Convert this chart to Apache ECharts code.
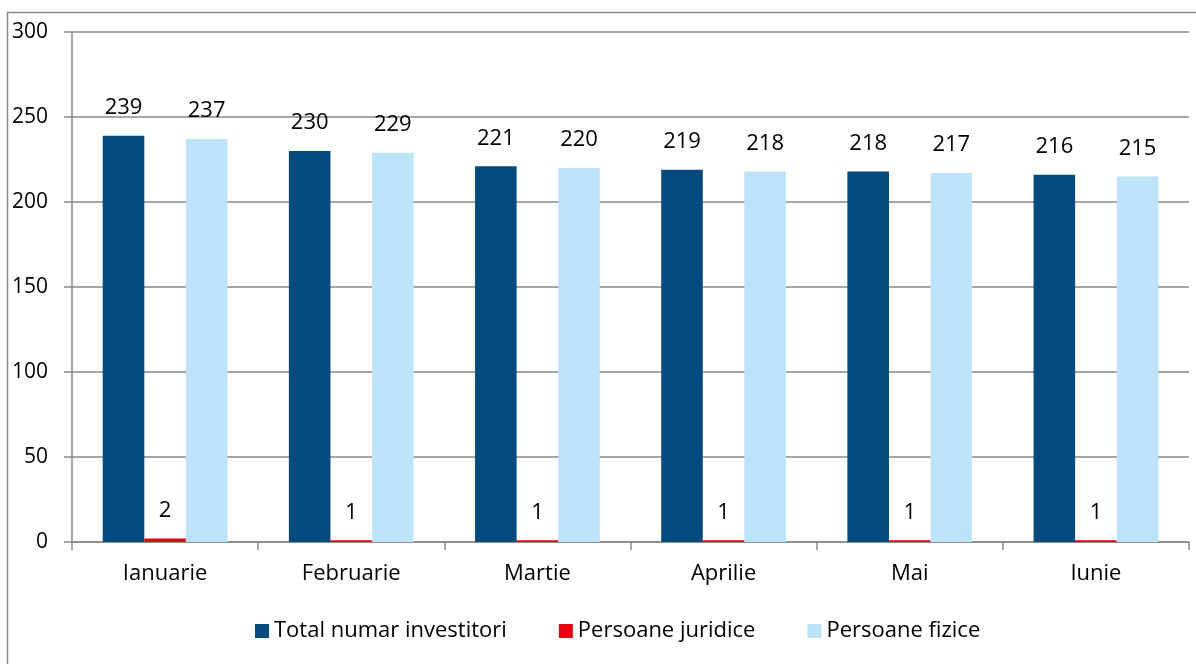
<!DOCTYPE html>
<html>
<head>
<meta charset="utf-8">
<script src="https://cdn.jsdelivr.net/npm/echarts@6/dist/echarts.min.js"></script>
<style>
  html, body { margin: 0; padding: 0; background: #fff; }
  #container { width: 1196px; height: 664px; }
</style>
</head>
<body>
<div id="container"></div>
<script>
var months = ['Ianuarie', 'Februarie', 'Martie', 'Aprilie', 'Mai', 'Iunie'];
var totalInvestitori = [239, 230, 221, 219, 218, 216];
var persoaneJuridice = [2, 1, 1, 1, 1, 1];
var persoaneFizice = [237, 229, 220, 218, 217, 215];
var yTicks = [0, 50, 100, 150, 200, 250, 300];

var dom = document.getElementById('container');
var myChart = echarts.init(dom);
var FONT = '"Open Sans", "Liberation Sans", sans-serif';
var GREY = '#898989';
var FS = 22;

function barSeries(name, data, color) {
    return {
        name: name,
        type: 'bar',
        data: data,
        barGap: '0%',
        barCategoryGap: '33%',
        itemStyle: { color: color },
        label: {
            show: true,
            position: 'top',
            distance: 17,
            color: '#000',
            fontFamily: FONT,
            fontSize: FS
        }
    };
}

var option = {
    animation: false,
    graphic: [{
        type: 'rect',
        shape: { x: 7.5, y: 12.5, width: 1220, height: 700 },
        style: { fill: 'none', stroke: GREY, lineWidth: 1.5 },
        silent: true
    }],
    grid: { left: 72, right: 7, top: 32, bottom: 122 },
    legend: {
        bottom: 17,
        left: 250,
        itemWidth: 14,
        itemHeight: 14,
        itemGap: 52,
        icon: 'rect',
        textStyle: { fontFamily: FONT, fontSize: FS, color: '#000', padding: [0, 0, 0, 0] },
        data: ['Total numar investitori', 'Persoane juridice', 'Persoane fizice']
    },
    xAxis: {
        type: 'category',
        data: months,
        axisLine: { lineStyle: { color: GREY, width: 1.5 } },
        axisTick: { show: true, length: 8, lineStyle: { color: GREY, width: 1.5 } },
        axisLabel: { color: '#000', fontFamily: FONT, fontSize: FS, margin: 21 }
    },
    yAxis: {
        type: 'value',
        min: yTicks[0],
        max: yTicks[yTicks.length - 1],
        interval: 50,
        axisLine: { show: true, lineStyle: { color: GREY, width: 1.5 } },
        axisTick: { show: true, length: 8, lineStyle: { color: GREY, width: 1.5 } },
        splitLine: { lineStyle: { color: GREY, width: 1.5 } },
        axisLabel: { color: '#000', fontFamily: FONT, fontSize: 21, margin: 24 }
    },
    series: [
        barSeries('Total numar investitori', totalInvestitori, '#044A7C'),
        barSeries('Persoane juridice', persoaneJuridice, '#E30613'),
        barSeries('Persoane fizice', persoaneFizice, '#BDE3F8')
    ]
};

myChart.setOption(option);
</script>
</body>
</html>
